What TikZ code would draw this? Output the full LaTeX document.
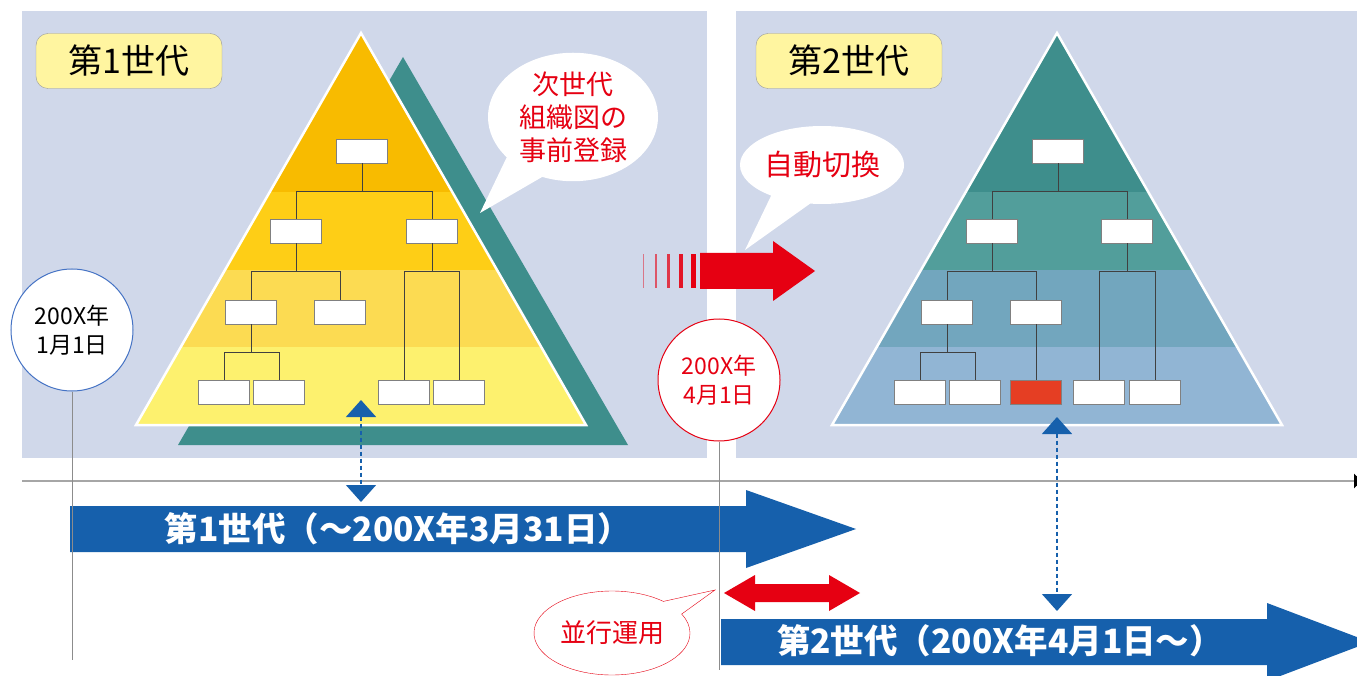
\documentclass[tikz,border=0pt]{standalone}
\usepackage{fontspec}
\setmainfont{Noto Sans CJK JP}
\usetikzlibrary{arrows.meta,shapes.callouts}

\definecolor{panelbg}{RGB}{208,216,234}
\definecolor{labelyellow}{RGB}{255,245,160}
\definecolor{tealshadow}{RGB}{62,142,140}
\definecolor{yband1}{RGB}{248,187,0}
\definecolor{yband2}{RGB}{254,206,22}
\definecolor{yband3}{RGB}{252,219,82}
\definecolor{yband4}{RGB}{253,241,110}
\definecolor{gband1}{RGB}{62,142,140}
\definecolor{gband2}{RGB}{82,158,155}
\definecolor{gband3}{RGB}{114,166,190}
\definecolor{gband4}{RGB}{145,181,212}
\definecolor{barblue}{RGB}{22,96,172}
\definecolor{alertred}{RGB}{230,0,18}
\definecolor{boxred}{RGB}{229,62,35}
\definecolor{circleblue}{RGB}{68,114,196}

\tikzset{
  orgbox/.style={draw=black!50, fill=white, minimum width=51, minimum height=24, inner sep=0pt},
  orgline/.style={draw=black!75, line width=1pt},
  genlabel/.style={draw=black!40, fill=labelyellow, rounded corners=12, minimum width=186, minimum height=55, font=\fontsize{34}{38}\selectfont},
  datecircle/.style={circle, fill=white, line width=1pt, minimum size=122, inner sep=0pt, align=center, font=\fontsize{23}{29}\selectfont},
  redtext/.style={text=alertred, align=center},
  bartext/.style={text=white, font=\bfseries\fontsize{33.5}{36}\selectfont},
  dotarrow/.style={barblue, line width=1.6pt, dash pattern=on 4pt off 3pt, {Triangle[width=30pt,length=17pt]}-{Triangle[width=30pt,length=17pt]}},
  timeline/.style={draw=black!35, line width=2pt, -{Triangle[width=14pt,length=8pt,color=black]}},
  dayline/.style={draw=black!45, line width=1pt}
}

\begin{document}
\begin{tikzpicture}[x=1pt, y=-1pt]
\useasboundingbox (0,0) rectangle (1357,676);
\clip (0,0) rectangle (1357,676);
\fill[white] (0,0) rectangle (1357,676);

% panels
\fill[panelbg] (22,11) rectangle (707,458);
\fill[panelbg] (736,11) rectangle (1357,458);
\node[genlabel] (gen1label) at (129,61) {第1世代};
\node[genlabel] (gen2label) at (849,61) {第2世代};

% first generation pyramid
\fill[tealshadow] (403,57) -- (628,445) -- (178,445) -- cycle;
\begin{scope}
  \clip (361,33) -- (586,425) -- (136,425) -- cycle;
  \foreach \ya/\yb/\col in {33/192/yband1, 192/270/yband2, 270/347/yband3, 347/425/yband4}
    \fill[\col] (100,\ya) rectangle (620,\yb);
\end{scope}
\draw[white, line width=2.5pt] (361,33) -- (586,425) -- (136,425) -- cycle;

\node[orgbox] (la) at (362,151) {};
\node[orgbox] (lb1) at (296,231) {};
\node[orgbox] (lb2) at (432,231) {};
\node[orgbox] (lc1) at (251,312) {};
\node[orgbox] (lc2) at (340,312) {};
\node[orgbox] (ld1) at (224,392) {};
\node[orgbox] (ld2) at (279,392) {};
\node[orgbox] (ld3) at (404,392) {};
\node[orgbox] (ld4) at (459,392) {};
\foreach \p/\c in {la/lb1, la/lb2, lb1/lc1, lb1/lc2, lb2/ld3, lb2/ld4, lc1/ld1, lc1/ld2}
  \draw[orgline] (\p.south) -- ++(0,28) -| (\c.north);

% second generation pyramid
\begin{scope}
  \clip (1057,33) -- (1282,425) -- (832,425) -- cycle;
  \foreach \ya/\yb/\col in {33/192/gband1, 192/270/gband2, 270/347/gband3, 347/425/gband4}
    \fill[\col] (800,\ya) rectangle (1320,\yb);
\end{scope}
\draw[white, line width=2.5pt] (1057,33) -- (1282,425) -- (832,425) -- cycle;

\node[orgbox] (ra) at (1058,151) {};
\node[orgbox] (rb1) at (992,231) {};
\node[orgbox] (rb2) at (1127,231) {};
\node[orgbox] (rc1) at (947,312) {};
\node[orgbox] (rc2) at (1036,312) {};
\node[orgbox] (rd1) at (920,392) {};
\node[orgbox] (rd2) at (975,392) {};
\node[orgbox, fill=boxred] (rd3) at (1036,392) {};
\node[orgbox] (rd4) at (1099,392) {};
\node[orgbox] (rd5) at (1155,392) {};
\foreach \p/\c in {ra/rb1, ra/rb2, rb1/rc1, rb1/rc2, rb2/rd4, rb2/rd5, rc1/rd1, rc1/rd2, rc2/rd3}
  \draw[orgline] (\p.south) -- ++(0,28) -| (\c.north);

% callouts
\node[ellipse callout, fill=white, inner sep=0pt, minimum width=170, minimum height=126,
  callout absolute pointer={(480,213)}, callout pointer arc=30, redtext,
  font=\fontsize{27}{33}\selectfont] (nextgen) at (573,117) {次世代\\組織図の\\事前登録};
\node[ellipse callout, fill=white, inner sep=0pt, minimum width=152, minimum height=78,
  callout absolute pointer={(745,250)}, callout pointer arc=30, redtext,
  font=\fontsize{29}{33}\selectfont] (autoswitch) at (822,165) {自動切換};

% switch arrow
\foreach \sx/\sw/\op in {643/1/0.45, 655/2/0.6, 667/3/0.75, 679/4/0.9, 691/5/1}
  \fill[alertred, opacity=\op] (\sx,254) rectangle ++(\sw,34);
\fill[alertred] (700,253) -- (773,253) -- (773,241) -- (815,271) -- (773,301) -- (773,289) -- (700,289) -- cycle;

% time axis
\coordinate (axisstart) at (22,481);
\coordinate (axisend) at (1362,481);
\draw[timeline] (axisstart) -- (axisend);

% generation bars
\fill[barblue] (70,506) -- (746,506) -- (746,490) -- (856,529) -- (746,568) -- (746,552) -- (70,552) -- cycle;
\node[bartext] (gen1bar) at (398,529) {第1世代（～200X年3月31日）};
\fill[barblue] (721,619) -- (1267,619) -- (1267,603) -- (1370,642) -- (1267,681) -- (1267,665) -- (721,665) -- cycle;
\node[bartext] (gen2bar) at (1000,641) {第2世代（200X年4月1日～）};

% dates
\node[datecircle, draw=circleblue] (startday) at (72,330) {200X年\\1月1日};
\node[datecircle, draw=alertred, text=alertred] (switchday) at (719,380) {200X年\\4月1日};
\coordinate (startfoot) at (72,660);
\coordinate (switchfoot) at (719,670);
\draw[dayline] (startday.south) -- (startfoot);
\draw[dayline] (switchday.south) -- (switchfoot);

% links between pyramids and bars
\coordinate (gen1top) at (361,400);
\coordinate (gen1bot) at (361,502);
\coordinate (gen2top) at (1057,417);
\coordinate (gen2bot) at (1057,611);
\draw[dotarrow] (gen1top) -- (gen1bot);
\draw[dotarrow] (gen2top) -- (gen2bot);

% parallel operation
\fill[alertred] (724,593) -- (755,575) -- (755,584) -- (829,584) -- (829,575) -- (860,593)
  -- (829,611) -- (829,602) -- (755,602) -- (755,611) -- cycle;
\node[ellipse callout, draw=alertred, fill=white, inner sep=0pt, minimum width=156, minimum height=84,
  callout absolute pointer={(715,590)}, callout pointer arc=22, redtext,
  font=\fontsize{26}{30}\selectfont] (parallel) at (612,633) {並行運用};
\end{tikzpicture}
\end{document}
